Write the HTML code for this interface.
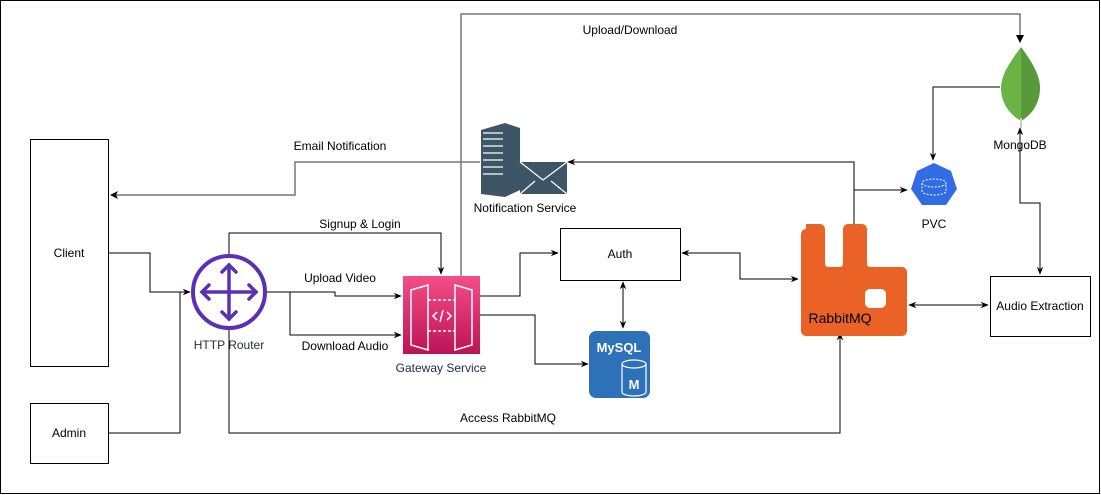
<!DOCTYPE html>
<html><head><meta charset="utf-8"><style>
html,body{margin:0;padding:0;background:#fff;}
svg{display:block;font-family:"Liberation Sans",Arial,sans-serif;}
</style></head><body>
<svg width="1101" height="495" viewBox="0 0 1101 495" xmlns="http://www.w3.org/2000/svg">
<defs>
<marker id="a" viewBox="0 0 10 10" refX="9" refY="5" markerWidth="8" markerHeight="8" orient="auto-start-reverse"><path d="M0,1 L10,5 L0,9 L3,5 z" fill="#000"/></marker>
<linearGradient id="pg" x1="0" y1="0" x2="0" y2="1"><stop offset="0" stop-color="#F54D87"/><stop offset="1" stop-color="#BC1356"/></linearGradient>
</defs>
<rect x="0.5" y="0.5" width="1099" height="493" fill="#fff" stroke="#000"/>
<g fill="#fff" stroke="#000">
<rect x="30.5" y="139.5" width="78" height="227"/>
<rect x="30.5" y="403.5" width="78" height="60"/>
<rect x="560.5" y="228.5" width="120" height="52"/>
<rect x="990.5" y="276.5" width="100" height="60"/>
</g>
<g font-size="12" fill="#000" text-anchor="middle">
<text x="69" y="257">Client</text>
<text x="69" y="437">Admin</text>
<text x="620" y="258">Auth</text>
<text x="1040" y="310">Audio Extraction</text>
<text x="360" y="228">Signup &amp; Login</text>
<text x="340" y="282">Upload Video</text>
<text x="345" y="350">Download Audio</text>
<text x="508" y="422">Access RabbitMQ</text>
<text x="630" y="34">Upload/Download</text>
<text x="340" y="150">Email Notification</text>
<text x="525" y="212">Notification Service</text>
<text x="934" y="228">PVC</text>
<text x="1020" y="149">MongoDB</text>
</g>
<g font-size="12" fill="#232F3E" text-anchor="middle">
<text x="229" y="349">HTTP Router</text>
<text x="441" y="372">Gateway Service</text>
</g>
<!-- connectors -->
<g fill="none" stroke="#000" stroke-width="1">
<path d="M108,253 H150 V292 H190" marker-end="url(#a)"/>
<path d="M108,433 H180 V292"/>
<path d="M229,255 V233 H441 V274" marker-end="url(#a)"/>
<path d="M266,292 H335 V296 H401" marker-end="url(#a)"/>
<path d="M290,292 V335 H401" marker-end="url(#a)"/>
<path d="M229,330 V433 H840 V333" marker-end="url(#a)"/>
<path d="M480,296 H520 V253 H558" marker-end="url(#a)"/>
<path d="M480,315 H535 V364 H588" marker-end="url(#a)"/>
<path d="M623,282 V328" marker-start="url(#a)" marker-end="url(#a)"/>
<path d="M682,253 H740 V279 H798" marker-start="url(#a)" marker-end="url(#a)"/>
<path d="M854,224 V162 H568" marker-end="url(#a)"/>
<path d="M854,190 H907" marker-end="url(#a)"/>
<path d="M1000,87 H933 V160" marker-end="url(#a)"/>
<path d="M1020,128 V203 H1040 V274" marker-start="url(#a)" marker-end="url(#a)"/>
<path d="M909,305 H988" marker-start="url(#a)" marker-end="url(#a)"/>
</g>
<g fill="none" stroke="#777" stroke-width="1.5">
<path d="M461,276 V14 H1020 V41"/>
<path d="M480,162 H295 V195 H112"/>
</g>
<path d="M1020,35 l-4,0 l4,8 l4,-8z" fill="#000"/>
<path d="M110,195 l8,-4 l-2,4 l2,4z" fill="#000"/>
<!-- router -->
<circle cx="229" cy="292" r="36" fill="#fff" stroke="#5A30B5" stroke-width="4"/>
<g stroke="#5A30B5" stroke-width="3.5" fill="none" stroke-linecap="round">
<path d="M229,265 V319 M202,292 H256"/>
<path d="M222,272 L229,265 L236,272 M222,312 L229,319 L236,312 M209,285 L202,292 L209,299 M249,285 L256,292 L249,299"/>
</g>
<!-- gateway -->
<rect x="403" y="276" width="77" height="78" fill="url(#pg)"/>
<g stroke="#fff" stroke-width="1.5" fill="none">
<path d="M411,290 L428,285 V350 L411,345 Z"/>
<path d="M472,290 L455,285 V350 L472,345 Z"/>
<path d="M428,300 H455 M428,331 H455" stroke-dasharray="3,2"/>
<path d="M437,312 l-4,4 l4,4 M447,312 l4,4 l-4,4 M443,310 l-3,12"/>
</g>
<!-- mysql -->
<rect x="589" y="331" width="61" height="67" rx="7" fill="#2D72B8"/>
<text x="619" y="352" font-size="13" font-weight="bold" fill="#fff" text-anchor="middle">MySQL</text>
<path d="M622,364 v28 a12,4 0 0 0 24,0 v-28" fill="#2D72B8" stroke="#fff" stroke-width="1.2"/>
<ellipse cx="634" cy="364" rx="12" ry="4" fill="#2D72B8" stroke="#fff" stroke-width="1.2"/>
<text x="634" y="389" font-size="13" font-weight="bold" fill="#fff" text-anchor="middle">M</text>
<!-- notification -->
<path d="M481,130 L505,123 L520,128 L520,190 L505,197 L481,194 Z" fill="#3E5566"/>
<g stroke="#fff" stroke-width="1.2"><path d="M483,133 H503 M483,139 H503 M483,146 H503 M483,153 H503 M483,160 H503 M483,167 H503 M483,174 H503"/></g>
<rect x="520" y="162" width="47" height="32" fill="#3E5566"/>
<path d="M520,162 L543,180 L567,162 M520,194 L535,181 M567,194 L551,181" stroke="#fff" stroke-width="1.2" fill="none"/>
<!-- rabbitmq -->
<path d="M806,224 h14 a5,5 0 0 1 5,5 v35 a3,3 0 0 0 3,3 h12 a3,3 0 0 0 3,-3 v-35 a5,5 0 0 1 5,-5 h14 a5,5 0 0 1 5,5 v35 a3,3 0 0 0 3,3 h32 a5,5 0 0 1 5,5 v59 a5,5 0 0 1 -5,5 h-96 a5,5 0 0 1 -5,-5 v-97 a5,5 0 0 1 5,-5z" fill="#EA6226"/>
<rect x="865" y="289" width="21" height="19" rx="5" fill="#fff"/>
<text x="840" y="323" font-size="14" fill="#000" text-anchor="middle">RabbitMQ</text>
<!-- pvc -->
<polygon points="934,163 951,171 957,189 946,205 922,205 911,189 917,171" fill="#326CE5"/>
<ellipse cx="934" cy="183" rx="12" ry="4" fill="none" stroke="#fff" stroke-dasharray="2,1.5"/>
<path d="M922,183 v8 a12,4 0 0 0 24,0 v-8" fill="none" stroke="#fff" stroke-dasharray="2,1.5"/>
<!-- mongodb -->
<path d="M1021,47 C1010,62 1001,75 1001,88 C1001,105 1012,116 1021,121 Z" fill="#6AB344"/>
<path d="M1021,47 C1032,62 1040,75 1040,88 C1040,105 1030,116 1021,121 Z" fill="#589A3A"/>
<path d="M1021,118 V128" stroke="#ccc" stroke-width="2"/>
</svg>
</body></html>
